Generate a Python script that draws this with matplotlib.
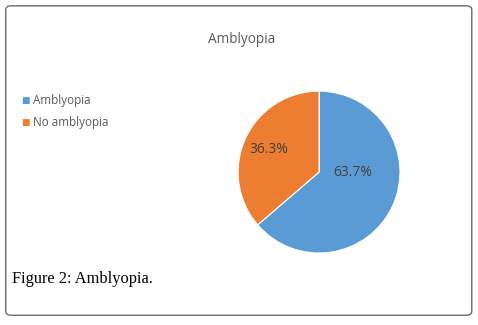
import matplotlib.pyplot as plt
from matplotlib.patches import FancyBboxPatch

labels = ['Amblyopia', 'No amblyopia']
values = [63.7, 36.3]
colors = ['#5B9BD5', '#ED7D31']

fig = plt.figure(figsize=(4.78, 3.25), dpi=100)

# rounded frame round the whole figure
frame = FancyBboxPatch((0.012, 0.03), 0.975, 0.952, boxstyle='round,pad=0,rounding_size=0.012',
                       transform=fig.transFigure, fill=False, edgecolor='#6b6b6b', linewidth=1.0)
fig.patches.append(frame)

ax = fig.add_axes([0.498, 0.2215, 0.339, 0.498])
wedges, texts, pcts = ax.pie(values, colors=colors, startangle=90, counterclock=False,
                             autopct='%1.1f%%', pctdistance=0.6,
                             wedgeprops=dict(edgecolor='white', linewidth=0.8),
                             textprops=dict(color='#404040', fontsize=10, family='Open Sans'))
ax.set_xlim(-1, 1)
ax.set_ylim(-1, 1)
# label spots as placed in the original
pcts[0].set_position((0.42, 0.0))
pcts[1].set_position((-0.62, 0.28))

fig.text(0.506, 0.877, 'Amblyopia', ha='center', va='center', fontsize=9.8,
         color='#595959', family='Open Sans')

for i, (lab, col) in enumerate(zip(labels, colors)):
    y = 1 - (101 + 22 * i) / 325
    fig.text(0.044, y, '\u25A0', color=col, fontsize=6.5, va='center', ha='left')
    fig.text(0.069, y, lab, color='#595959', fontsize=8.4, va='center', ha='left', family='Open Sans')

fig.text(0.025, 1 - 279 / 325, 'Figure 2: Amblyopia.', fontsize=11.8, family='Liberation Serif',
         va='center', ha='left', color='black')

fig.savefig('out.png', dpi=100)
